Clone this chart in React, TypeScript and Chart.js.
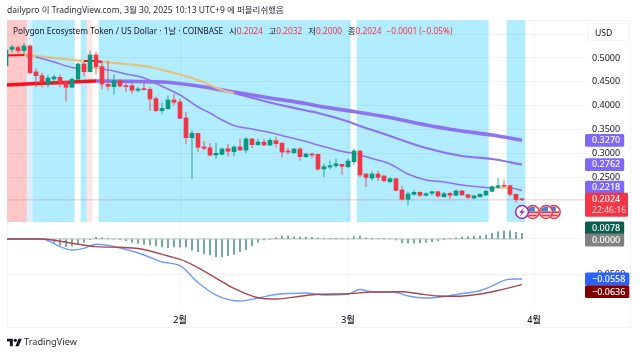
import React, { useEffect, useRef } from "react";
import { Chart, registerables } from "chart.js";

Chart.register(...registerables);

const opens = [
  0.4832, 0.5179, 0.5221, 0.5153, 0.5252, 0.4706, 0.4629, 0.4468, 0.4559, 0.4594,
  0.4511, 0.4385, 0.4553, 0.4874, 0.4712, 0.5063, 0.4818, 0.4448, 0.4399, 0.4523,
  0.4418, 0.4418, 0.4322, 0.4349, 0.4342, 0.4145, 0.3893, 0.3935, 0.4118, 0.4076,
  0.374, 0.3326, 0.3418, 0.313, 0.3116, 0.2962, 0.2977, 0.3095, 0.3032, 0.313,
  0.3068, 0.3299, 0.3179, 0.3235, 0.3172, 0.3263, 0.3208, 0.304, 0.3011, 0.3088,
  0.2927, 0.2977, 0.2977, 0.2668, 0.271, 0.2738, 0.2767, 0.2717, 0.2821, 0.3047,
  0.2563, 0.2479, 0.2563, 0.2521, 0.2401, 0.2464, 0.2227, 0.2032, 0.2136, 0.2178,
  0.2116, 0.2158, 0.2191, 0.2087, 0.2158, 0.2116, 0.2206, 0.2128, 0.2059, 0.2087,
  0.2122, 0.22, 0.2284, 0.2326, 0.2317, 0.2137, 0.2024,
];
const highs = [
  0.5189, 0.5273, 0.5252, 0.5315, 0.5273, 0.4769, 0.4685, 0.4643, 0.4643, 0.4643,
  0.4517, 0.458, 0.4895, 0.4916, 0.5153, 0.5126, 0.4937, 0.4937, 0.4643, 0.4553,
  0.4481, 0.4468, 0.4385, 0.4468, 0.4385, 0.4187, 0.4055, 0.4208, 0.4244, 0.4132,
  0.3859, 0.3467, 0.3418, 0.325, 0.3208, 0.3208, 0.3109, 0.3187, 0.3158, 0.3299,
  0.3326, 0.3313, 0.3299, 0.3299, 0.3313, 0.334, 0.3229, 0.3103, 0.3103, 0.3116,
  0.2998, 0.3004, 0.2983, 0.2779, 0.2836, 0.2879, 0.2773, 0.2879, 0.3088, 0.3047,
  0.257, 0.2605, 0.262, 0.2535, 0.2485, 0.2473, 0.2311, 0.2185, 0.2227, 0.2191,
  0.217, 0.2206, 0.22, 0.2179, 0.217, 0.2221, 0.2221, 0.2136, 0.2122, 0.2149,
  0.2227, 0.2317, 0.2472, 0.2431, 0.2332, 0.2143, 0.2032,
];
const lows = [
  0.479, 0.5126, 0.5105, 0.5084, 0.4664, 0.4391, 0.4391, 0.4391, 0.4454, 0.4391,
  0.4097, 0.4381, 0.4538, 0.4622, 0.4706, 0.4664, 0.4349, 0.4328, 0.4238, 0.4391,
  0.4292, 0.4259, 0.4286, 0.4328, 0.3893, 0.3872, 0.3824, 0.3922, 0.4013, 0.3725,
  0.3193, 0.2458, 0.3032, 0.3068, 0.2941, 0.2893, 0.2962, 0.2935, 0.2947, 0.3047,
  0.3004, 0.3116, 0.3158, 0.3158, 0.3158, 0.313, 0.292, 0.2977, 0.299, 0.2851,
  0.2906, 0.2906, 0.2641, 0.2506, 0.2668, 0.2695, 0.2557, 0.2695, 0.2767, 0.2506,
  0.2296, 0.2437, 0.2423, 0.2401, 0.238, 0.2206, 0.2017, 0.1912, 0.2116, 0.2087,
  0.2095, 0.2116, 0.2074, 0.2074, 0.2044, 0.2101, 0.2107, 0.2044, 0.2044, 0.2074,
  0.2107, 0.2185, 0.2269, 0.2296, 0.2101, 0.1975, 0.2,
];
const closes = [
  0.5168, 0.5231, 0.5153, 0.5252, 0.4691, 0.4629, 0.449, 0.458, 0.4601, 0.4468,
  0.4385, 0.4553, 0.4874, 0.4712, 0.5063, 0.4818, 0.4454, 0.4406, 0.4523, 0.4412,
  0.4399, 0.4322, 0.4349, 0.4335, 0.4139, 0.3893, 0.3943, 0.4118, 0.4069, 0.3733,
  0.3326, 0.3418, 0.3124, 0.3103, 0.2962, 0.2998, 0.3088, 0.304, 0.313, 0.3068,
  0.3299, 0.3179, 0.3235, 0.3172, 0.3271, 0.32, 0.3025, 0.3025, 0.3088, 0.2927,
  0.2983, 0.2962, 0.2668, 0.2717, 0.2738, 0.2779, 0.2725, 0.2836, 0.3047, 0.2542,
  0.2494, 0.2563, 0.2494, 0.2423, 0.2464, 0.2221, 0.2032, 0.2143, 0.2178, 0.2116,
  0.2149, 0.2191, 0.2101, 0.2149, 0.2116, 0.2206, 0.2128, 0.2074, 0.2101, 0.2136,
  0.22, 0.2296, 0.2317, 0.2305, 0.2137, 0.2025, 0.2024,
];

const histogram = [
  0, 0, 0, 0, 0, 0, 0, -0.0028, -0.0046, -0.0084, -0.0107, -0.0098, -0.0074, -0.0046, -0.001,
  0.0024, 0.0018, 0.001, 0, -0.0004, -0.0024, -0.0046, -0.006, -0.0074, -0.0084, -0.0098, -0.0112,
  -0.0121, -0.0112, -0.0112, -0.0112, -0.0158, -0.0177, -0.0209, -0.0223, -0.0247, -0.0247, -0.0233,
  -0.0213, -0.0177, -0.0149, -0.0093, -0.0046, -0.0014, -0.0004, 0.0018, 0.0042, 0.0042, 0.0028,
  0.0028, 0.0024, 0.0024, 0.0014, 0.001, 0.001, 0.0004, 0.0004, 0.001, 0.0032, 0.0038, 0.0014, 0.001,
  0.0004, 0.0004, 0, -0.0014, -0.0052, -0.0056, -0.0056, -0.0056, -0.0046, -0.0038, -0.0024, -0.0004,
  0.0004, 0.0018, 0.0028, 0.0032, 0.0038, 0.0042, 0.0056, 0.0079, 0.0102, 0.0112, 0.0112, 0.0093, 0.0078,
];

// Background zone of every daily candle: p pink, l pale blue, c cyan, w white, r pale pink
const zones = (
  "ppppl" + "ccccccc" + "w" + "c" + "r" + "w" +
  "cccccccccccccccccccccccccccccccccccccccccc" + "w" +
  "cccccccccccccccccccccc" + "www" + "ccc"
).split("");

const thinDays = [3, 4, 5, 8, 11, 12, 15, 16, 18, 20, 23, 25, 27, 29, 32, 34, 36, 38, 41, 44, 47, 50, 52, 55, 57, 58, 59, 61, 64, 67, 70, 73, 76, 80, 81, 83, 84, 86];
const thinPrices = [0.5063, 0.5053, 0.5021, 0.4916, 0.4801, 0.479, 0.479, 0.4769, 0.4727, 0.4664, 0.458, 0.4464, 0.4349, 0.4223, 0.3971, 0.3845, 0.3698, 0.3582, 0.3508, 0.3435, 0.334, 0.3246, 0.3172, 0.3068, 0.3015, 0.3004, 0.2962, 0.2889, 0.2773, 0.2563, 0.2437, 0.2395, 0.2332, 0.228, 0.2269, 0.2269, 0.2269, 0.2218];
const midDays = [0, 3, 4, 8, 12, 13, 15, 16, 20, 24, 28, 32, 36, 38, 44, 50, 52, 57, 59, 64, 70, 76, 81, 86];
const midPrices = [0.5053, 0.5063, 0.5053, 0.5, 0.4947, 0.4937, 0.4937, 0.4916, 0.4874, 0.4811, 0.4685, 0.4538, 0.4328, 0.4265, 0.4065, 0.3897, 0.3845, 0.3666, 0.3572, 0.3362, 0.3109, 0.2941, 0.2878, 0.2762];
const thickDays = [0, 5, 10, 15, 16, 22, 26, 28, 32, 36, 38, 44, 50, 52, 58, 64, 70, 76, 81, 86];
const thickPrices = [0.4433, 0.4464, 0.4485, 0.4517, 0.4517, 0.4506, 0.4496, 0.4475, 0.4412, 0.4328, 0.4286, 0.416, 0.4044, 0.3991, 0.3876, 0.375, 0.3592, 0.3467, 0.3382, 0.327];

const macdDays = [0, 6, 9, 11, 13, 15, 19, 23, 26, 29, 32, 35, 39, 42, 45, 50, 53, 57, 59, 61, 65, 67, 70, 73, 76, 79, 81, 83, 84, 86];
const macdValues = [0, 0, -0.0107, -0.0153, -0.013, -0.0074, -0.0126, -0.0223, -0.0321, -0.0372, -0.0607, -0.0781, -0.0865, -0.0823, -0.0774, -0.0753, -0.0781, -0.0767, -0.0704, -0.0735, -0.0746, -0.0795, -0.0823, -0.0802, -0.076, -0.0721, -0.0656, -0.0576, -0.0562, -0.0558];
const signalDays = [0, 6, 11, 15, 19, 22, 27, 30, 35, 38, 42, 45, 49, 52, 57, 61, 66, 69, 72, 75, 79, 82, 86];
const signalValues = [0, 0, -0.006, -0.0107, -0.0116, -0.0132, -0.0237, -0.0314, -0.0544, -0.069, -0.0819, -0.0837, -0.0799, -0.0771, -0.0763, -0.0739, -0.0735, -0.0767, -0.0795, -0.0799, -0.0767, -0.0718, -0.0636];

const monthDays = [29, 57, 88];
const monthLabels = ["2월", "3월", "4월"];
const eventDays = [86, 87.8, 90, 91.3];
const lastPrice = 0.2024;
const countdown = "22:46:16";

const FONT = '"Noto Sans", "Noto Sans CJK KR", sans-serif';
const RED = "#f23645";
const GREEN = "#089981";
const PURPLE = "#8e72f2";
const TAN = "#e6c27c";
const LINE_RED = "#fb0f1c";

const zoneColors: Record<string, string> = {
  p: "#ffc8c8",
  l: "#dcefff",
  c: "#b2ecff",
  w: "#ffffff",
  r: "#ffe6e6",
};

const inRange = (d: number, ranges: number[][]) => ranges.some(([a, b]) => d >= a && d < b);
const thinTone = (d: number) => (inRange(d, [[3, 5], [12, 16], [58, 59], [81, 84]]) ? TAN : PURPLE);
const midTone = (d: number) =>
  inRange(d, [[0, 4], [13, 16]]) ? LINE_RED : inRange(d, [[4, 13], [16, 37]]) ? TAN : PURPLE;
const thickTone = (d: number) => (inRange(d, [[0, 15]]) ? LINE_RED : PURPLE);

const pts = (xs: number[], ys: number[]) => xs.map((x, i) => ({ x, y: ys[i] }));
const days = opens.map((_, i) => i);
const isUp = (i: number) => closes[i] > opens[i];
const fmt = (v: number) => (v < 0 ? "\u2212" : "") + Math.abs(v).toFixed(4);

const toned = (xs: number[], tone: (d: number) => string) => ({
  borderColor: (ctx: any) => tone(xs[ctx.p0DataIndex]),
});

const badges = [
  { axis: "y", value: 0.327, nudge: 0, color: "#7e68f5" },
  { axis: "y", value: 0.2762, nudge: 0, color: "#7e68f5" },
  { axis: "y", value: 0.2218, nudge: -3.4, color: "#7e68f5" },
  { axis: "m", value: 0.0078, nudge: -5.4, color: "#0b5e4c" },
  { axis: "m", value: 0, nudge: 1, color: "#808080" },
  { axis: "m", value: -0.0558, nudge: -0.2, color: "#2962ff" },
  { axis: "m", value: -0.0636, nudge: 7, color: "#7f0000" },
];

const overlay = {
  id: "overlay",
  afterDraw(chart: any) {
    const { ctx, scales } = chart;
    const left = chart.chartArea.right;
    ctx.save();
    ctx.textBaseline = "middle";
    ctx.textAlign = "left";
    // event markers
    const cy = 212;
    [...eventDays].reverse().forEach((d) => {
      const cx = scales.x.getPixelForValue(d);
      const isBolt = d === eventDays[0];
      ctx.beginPath();
      ctx.arc(cx, cy, 6.4, 0, Math.PI * 2);
      ctx.fillStyle = "#ffffff";
      ctx.fill();
      ctx.lineWidth = 1.5;
      ctx.strokeStyle = isBolt ? "#9c27b0" : RED;
      ctx.stroke();
      if (isBolt) {
        ctx.fillStyle = "#9c27b0";
        ctx.beginPath();
        ctx.moveTo(cx + 2.2, cy - 4.4);
        ctx.lineTo(cx - 2.8, cy + 0.8);
        ctx.lineTo(cx - 0.2, cy + 0.8);
        ctx.lineTo(cx - 2.2, cy + 4.4);
        ctx.lineTo(cx + 2.8, cy - 0.8);
        ctx.lineTo(cx + 0.2, cy - 0.8);
        ctx.closePath();
        ctx.fill();
      } else {
        ctx.save();
        ctx.beginPath();
        ctx.arc(cx, cy, 5.4, 0, Math.PI * 2);
        ctx.clip();
        ctx.fillStyle = RED;
        ctx.fillRect(cx - 6, cy - 0.6, 12, 1.8);
        ctx.fillRect(cx - 6, cy + 2.6, 12, 1.8);
        ctx.fillStyle = "#3d86d8";
        ctx.fillRect(cx - 6, cy - 6, 8, 5.4);
        ctx.restore();
      }
    });
    // value badges
    ctx.font = `500 9px ${FONT}`;
    badges.forEach((b) => {
      const yc = scales[b.axis].getPixelForValue(b.value) + b.nudge;
      const text = fmt(b.value);
      const w = ctx.measureText(text).width + 11;
      ctx.fillStyle = b.color;
      ctx.beginPath();
      ctx.roundRect(left, yc - 6.4, w, 12.8, 1.5);
      ctx.fill();
      ctx.fillStyle = "#ffffff";
      ctx.fillText(text, left + 7, yc + 0.4);
    });
    // last price badge
    const ly = scales.y.getPixelForValue(lastPrice);
    ctx.fillStyle = RED;
    ctx.beginPath();
    ctx.roundRect(left, ly - 7, 43, 24, 1.5);
    ctx.fill();
    ctx.fillStyle = "#ffffff";
    ctx.fillText(fmt(lastPrice), left + 7, ly - 0.2);
    ctx.font = `8.6px ${FONT}`;
    ctx.fillStyle = "rgba(255,255,255,0.82)";
    ctx.fillText(countdown, left + 7, ly + 10.6);
    ctx.restore();
  },
};

export default function App() {
  const ref = useRef<HTMLCanvasElement | null>(null);

  useEffect(() => {
    if (!ref.current) return;
    const priceTop = 0.5798;
    const priceBottom = 0.1555;
    const line = (label: string, xs: number[], ys: number[], width: number, tone: (d: number) => string, order: number, axis = "y") => ({
      type: "line" as const,
      label,
      data: pts(xs, ys),
      yAxisID: axis,
      borderColor: tone(xs[xs.length - 1]),
      borderWidth: width,
      pointRadius: 0,
      cubicInterpolationMode: "monotone" as const,
      order,
      segment: toned(xs, tone),
    });
    const chart = new Chart(ref.current, {
      type: "bar",
      data: {
        datasets: [
          {
            label: "zones",
            data: days.map((d) => ({ x: d, y: [priceBottom, priceTop] })),
            yAxisID: "y",
            barThickness: 6,
            grouped: false,
            backgroundColor: zones.map((z) => zoneColors[z]),
            order: 20,
          },
          line("thick", thickDays, thickPrices, 3.6, thickTone, 8),
          line("mid", midDays, midPrices, 2.2, midTone, 7),
          line("thin", thinDays, thinPrices, 1.5, thinTone, 6),
          {
            type: "line" as const,
            label: "last",
            data: [{ x: 0, y: lastPrice }, { x: 97, y: lastPrice }],
            yAxisID: "y",
            borderColor: "rgba(242,54,69,0.22)",
            borderWidth: 1,
            pointRadius: 0,
            order: 5,
          },
          {
            label: "wicks",
            data: days.map((d) => ({ x: d, y: [lows[d], highs[d]] })),
            yAxisID: "y",
            barThickness: 1.4,
            grouped: false,
            backgroundColor: days.map((d) => (isUp(d) ? "rgba(8,153,129,0.42)" : "rgba(242,54,69,0.42)")),
            order: 4,
          },
          {
            label: "bodies",
            data: days.map((d) => ({ x: d, y: [Math.min(opens[d], closes[d]), Math.max(opens[d], closes[d])] })),
            yAxisID: "y",
            barThickness: 4,
            grouped: false,
            minBarLength: 1,
            backgroundColor: days.map((d) => (isUp(d) ? GREEN : RED)),
            order: 3,
          },
          {
            label: "histogram",
            data: days.map((d) => ({ x: d, y: histogram[d] })),
            yAxisID: "m",
            barThickness: 1.4,
            grouped: false,
            backgroundColor: "#6fae9f",
            order: 9,
          },
          {
            type: "line" as const,
            label: "zero",
            data: [{ x: 0, y: 0 }, { x: 86, y: 0 }],
            yAxisID: "m",
            borderColor: "rgba(120,123,134,0.45)",
            borderWidth: 1,
            pointRadius: 0,
            order: 10,
          },
          line("macd", macdDays, macdValues, 1.4, () => "#6f9cff", 7, "m"),
          line("signal", signalDays, signalValues, 1.4, () => "#a9484a", 6, "m"),
        ] as any,
      },
      options: {
        animation: false,
        responsive: false,
        devicePixelRatio: 1,
        layout: { padding: { left: 7, top: 20, right: 0, bottom: 0 } },
        plugins: { legend: { display: false }, tooltip: { enabled: false } },
        scales: {
          x: {
            type: "linear",
            offset: false,
            min: 1 / 6,
            max: 96.5,
            grid: { color: "rgba(42,46,57,0.05)", drawTicks: false, z: 1, offset: false },
            border: { display: false },
            afterBuildTicks: (s: any) => {
              s.ticks = monthDays.map((value) => ({ value }));
            },
            afterFit: (s: any) => {
              s.height = 47;
            },
            ticks: {
              autoSkip: false,
              maxRotation: 0,
              padding: 7,
              color: "#131722",
              font: { family: FONT, size: 9, weight: "500" },
              callback: (v: any) => monthLabels[monthDays.indexOf(Number(v))] ?? "",
            },
          },
          y: {
            type: "linear",
            position: "right",
            stack: "panes",
            stackWeight: 202,
            min: priceBottom,
            max: priceTop,
            grid: { color: "rgba(42,46,57,0.05)", drawTicks: false, z: 1 },
            border: { display: false },
            afterFit: (s: any) => {
              s.width = 55;
            },
            ticks: {
              stepSize: 0.05,
              includeBounds: false,
              padding: 7,
              color: "#131722",
              font: { family: FONT, size: 9 },
              callback: (v: any) => (Number(v) > 0.52 ? "" : Number(v).toFixed(4)),
            },
          },
          m: {
            type: "linear",
            position: "right",
            stack: "panes",
            stackWeight: 86,
            min: -0.0962,
            max: 0.0237,
            grid: { color: "rgba(42,46,57,0.05)", drawTicks: false, z: 1 },
            border: { display: false },
            afterBuildTicks: (s: any) => {
              s.ticks = [{ value: 0 }, { value: -0.05 }];
            },
            afterFit: (s: any) => {
              s.width = 55;
            },
            ticks: {
              padding: 7,
              color: "#131722",
              font: { family: FONT, size: 9 },
              callback: (v: any) => fmt(Number(v)),
            },
          },
        },
      } as any,
      plugins: [overlay],
    });
    return () => chart.destroy();
  }, []);

  const red = { color: RED };
  const head: React.CSSProperties = { position: "absolute", whiteSpace: "nowrap", fontFamily: FONT, color: "#131722" };
  return (
    <div style={{ position: "absolute", left: 0, top: 0, width: 640, height: 355, overflow: "hidden", background: "#fff" }}>
      <div style={{ position: "absolute", left: 7, top: 20, width: 624, height: 308, border: "1px solid #f3f4f6", boxSizing: "border-box" }} />
      <canvas ref={ref} width={640} height={355} style={{ position: "absolute", left: 0, top: 0, display: "block" }} />
      <div style={{ ...head, left: 7, top: 4, fontSize: 8.5, lineHeight: "12px", color: "#2a2e39" }}>
        dailypro 이 TradingView.com, 3월 30, 2025 10:13 UTC+9 에 퍼블리쉬했음
      </div>
      <div style={{ ...head, left: 13, top: 25, fontSize: 8.3, lineHeight: "12px" }}>
        Polygon Ecosystem Token / US Dollar · 1날 · COINBASE
        <span style={{ marginLeft: 6 }}>시<span style={red}>0.2024</span></span>
        <span style={{ marginLeft: 6 }}>고<span style={red}>0.2032</span></span>
        <span style={{ marginLeft: 6 }}>저<span style={red}>0.2000</span></span>
        <span style={{ marginLeft: 6 }}>종<span style={red}>0.2024</span></span>
        <span style={{ ...red, marginLeft: 5 }}>−0.0001 (−0.05%)</span>
      </div>
      <div style={{ ...head, left: 587, top: 23, width: 42, height: 18, lineHeight: "18px", paddingLeft: 7, boxSizing: "border-box", fontSize: 8.7, background: "#fff", border: "1px solid #f0f3fa", borderRadius: 3 }}>
        USD
      </div>
      <svg style={{ position: "absolute", left: 7, top: 337 }} width="15" height="10" viewBox="0 0 36 24">
        <path fill="#131722" d="M14 22H7V11H0V4h14v18zM28 22h-8l7.5-18h8L28 22z" />
        <circle fill="#131722" cx="20" cy="8" r="4" />
      </svg>
      <div style={{ ...head, left: 24, top: 336, fontSize: 9.2, lineHeight: "12px", color: "#2a2e39" }}>TradingView</div>
    </div>
  );
}
